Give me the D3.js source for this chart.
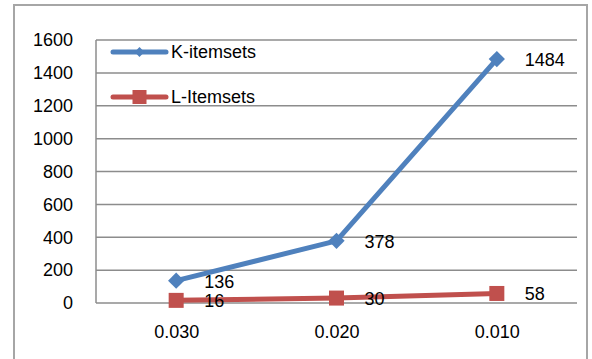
<!DOCTYPE html>
<html><head><meta charset="utf-8">
<script src="https://cdn.jsdelivr.net/npm/d3@7"></script>
<style>body{margin:0;background:#fff}svg{display:block}text{font-family:"Liberation Sans",Arial,sans-serif}</style>
</head><body>
<script>
const categories = ["0.030", "0.020", "0.010"];
const kValues = [136, 378, 1484];
const lValues = [16, 30, 58];
const seriesNames = ["K-itemsets", "L-Itemsets"];
const yTicks = [0, 200, 400, 600, 800, 1000, 1200, 1400, 1600];

const W = 592, H = 359;
const m = {left: 96, right: 15, top: 40, bottom: 56};
const FS = 18;
const svg = d3.select("body").append("svg").attr("width", W).attr("height", H);

// outer frame
svg.append("rect").attr("x", 14).attr("y", 5).attr("width", 573).attr("height", 370)
  .attr("fill", "none").attr("stroke", "#a6a6a6").attr("stroke-width", 2);

const x = d3.scalePoint().domain(categories).range([m.left, W - m.right]).padding(0.5);
const y = d3.scaleLinear().domain([0, 1600]).range([H - m.bottom, m.top]);

// gridlines
svg.append("g").selectAll("line").data(yTicks).join("line")
  .attr("x1", m.left).attr("x2", W - m.right)
  .attr("y1", d => y(d)).attr("y2", d => y(d))
  .attr("stroke", "#8c8c8c").attr("stroke-width", 1.5);
svg.append("line").attr("x1", m.left).attr("x2", m.left).attr("y1", y(1600)).attr("y2", y(0))
  .attr("stroke", "#8c8c8c").attr("stroke-width", 1.5);

// y axis labels
const yAxis = d3.axisLeft(y).tickValues(yTicks).tickFormat(d3.format("d")).tickSize(0).tickPadding(23);
const gy = svg.append("g").attr("transform", `translate(${m.left},0)`).call(yAxis);
gy.select(".domain").remove();
gy.selectAll("text").attr("font-size", FS).attr("fill", "#000").attr("font-family", '"Liberation Sans",Arial,sans-serif');

// x axis labels
const xAxis = d3.axisBottom(x).tickSize(0).tickPadding(22);
const gx = svg.append("g").attr("transform", `translate(0,${y(0)})`).call(xAxis);
gx.select(".domain").remove();
gx.selectAll("text").attr("font-size", FS).attr("fill", "#000").attr("font-family", '"Liberation Sans",Arial,sans-serif');

const line = d3.line().x((d, i) => x(categories[i])).y(d => y(d));
const series = [
  {name: seriesNames[0], values: kValues, color: "#4f81bd", marker: "diamond"},
  {name: seriesNames[1], values: lValues, color: "#c0504d", marker: "square"}
];

function drawMarker(g, type, color, cx, cy, sz) {
  if (type === "diamond") {
    g.append("path").attr("d", d3.symbol(d3.symbolDiamond2, sz * sz * 0.75)())
      .attr("transform", `translate(${cx},${cy})`).attr("fill", color);
  } else {
    g.append("rect").attr("x", cx - sz / 2).attr("y", cy - sz / 2).attr("width", sz).attr("height", sz).attr("fill", color);
  }
}

series.forEach(s => {
  svg.append("path").datum(s.values).attr("d", line)
    .attr("fill", "none").attr("stroke", s.color).attr("stroke-width", 5).attr("stroke-linejoin", "round");
  const g = svg.append("g");
  s.values.forEach((v, i) => drawMarker(g, s.marker, s.color, x(categories[i]), y(v), 15));
  svg.append("g").selectAll("text").data(s.values).join("text")
    .attr("x", (d, i) => x(categories[i]) + 28).attr("y", d => y(d) + 7)
    .attr("font-size", FS).attr("fill", "#000").text(d => d);
});

// legend
const leg = svg.append("g");
series.forEach((s, i) => {
  const ly = 52 + i * 45;
  leg.append("line").attr("x1", 113).attr("x2", 166).attr("y1", ly).attr("y2", ly)
    .attr("stroke", s.color).attr("stroke-width", 5).attr("stroke-linecap", "round");
  drawMarker(leg, s.marker, s.color, 139.5, ly, s.marker === "diamond" ? 9 : 14);
  leg.append("text").attr("x", 171).attr("y", ly + 6).attr("font-size", FS).attr("fill", "#000").text(s.name);
});
</script>
</body></html>
